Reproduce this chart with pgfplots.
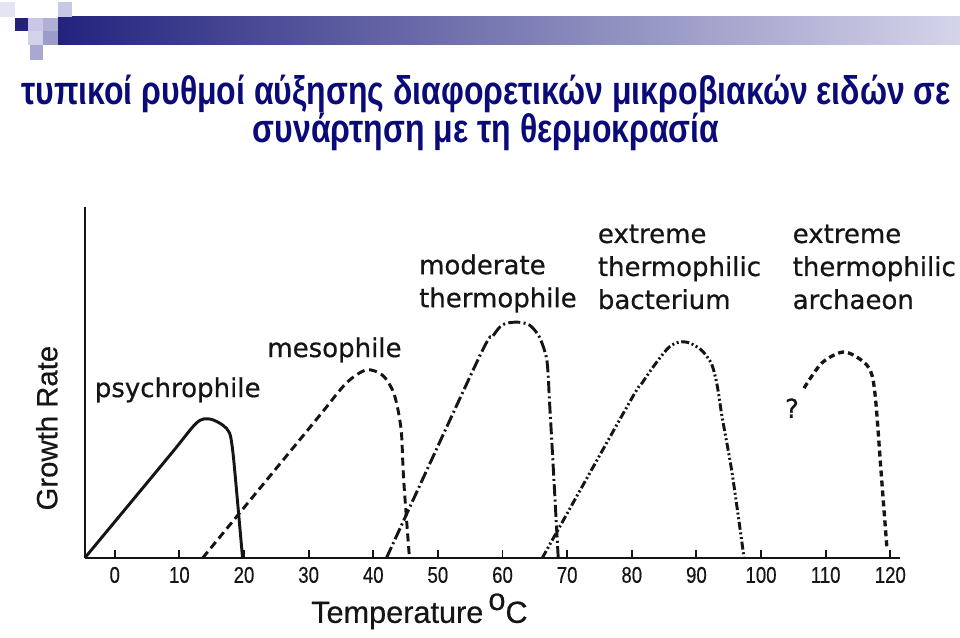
\documentclass[border=0pt]{standalone}
\usepackage{fontspec}
\usepackage{graphicx}
\usepackage{pgfplots}
\pgfplotsset{compat=1.18}
\setmainfont{Liberation Sans}
\newfontfamily\labelfont{DejaVu Sans}[FakeBold=0.6]
\newfontfamily\axisfont{Liberation Sans}[FakeBold=0.5]

\definecolor{titleblue}{HTML}{0A0A78}
\definecolor{barleft}{HTML}{23237E}
\definecolor{barright}{HTML}{D4D4EA}
\definecolor{ink}{HTML}{151515}
\definecolor{sqa}{HTML}{C8C8E6}
\definecolor{sqb}{HTML}{B0B0D6}
\definecolor{sqc}{HTML}{C8C8E4}
\definecolor{sqd}{HTML}{D2D2EA}
\definecolor{sqe}{HTML}{9C9CC8}
\definecolor{sqf}{HTML}{A8A8D0}
\definecolor{sqg}{HTML}{E4E4F2}

\begin{document}
\begin{tikzpicture}
% page is 960x638 px, 1 px = 0.75pt
\path[use as bounding box] (0,0) rectangle (720pt,478.5pt);

% slide decoration
\shade[left color=barleft, right color=barright] (43.5pt,444.75pt) rectangle (720pt,465.75pt);
\fill[barleft] (11.25pt,455.25pt) rectangle (21pt,465pt);
\fill[sqa] (21pt,455.25pt) rectangle (32.25pt,465pt);
\fill[sqb] (32.25pt,455.25pt) rectangle (43.5pt,465pt);
\fill[sqc] (43.5pt,465.75pt) rectangle (54pt,477pt);
\fill[sqd] (21pt,444.75pt) rectangle (32.25pt,455.25pt);
\fill[sqe] (32.25pt,444.75pt) rectangle (43.5pt,455.25pt);
\fill[sqf] (22.5pt,433.5pt) rectangle (32.25pt,444.75pt);
\fill[sqg] (0pt,465.75pt) rectangle (11.25pt,477pt);

% title
\node[anchor=base, text=titleblue, font=\bfseries\fontsize{30}{30}\selectfont]
  at (364.5pt,400pt) {\scalebox{0.8}[1]{τυπικοί ρυθμοί αύξησης διαφορετικών μικροβιακών ειδών σε}};
\node[anchor=base, text=titleblue, font=\bfseries\fontsize{30}{30}\selectfont]
  at (364.5pt,371.5pt) {\scalebox{0.8}[1]{συνάρτηση με τη θερμοκρασία}};

\begin{axis}[
  at={(63.75pt,60pt)}, anchor=south west,
  scale only axis, width=611.25pt, height=263.25pt,
  xmin=-4.6, xmax=121.5, ymin=0, ymax=100,
  axis x line=bottom, axis y line=left,
  axis line style={-, line width=2.2pt, ink},
  xtick={0,10,...,120}, ytick=\empty,
  tick align=inside, major tick length=6pt,
  tick style={line width=1.4pt, ink},
  /pgf/number format/assume math mode=true,
  xticklabel={\scalebox{0.82}[1]{\pgfmathprintnumber{\tick}}},
  xticklabel style={font=\axisfont\fontsize{17}{17}\selectfont, text=ink, inner sep=1pt, yshift=-5.5pt},
  clip=false,
  every axis plot/.append style={ink, line width=2.2pt, smooth, tension=0.5},
]
% psychrophile
\addplot[solid] coordinates {(-4.64,0) (8.50,29.2) (12.67,38.5) (14.68,39.6) (16.69,37.9) (17.77,35.6) (18.24,30.8) (18.70,22.2) (19.78,0)};
% mesophile
\addplot[dash pattern=on 6pt off 3.5pt] coordinates {(13.60,0) (28.59,33.6) (32.15,41.6) (35.86,49.9) (38.95,53.6) (41.42,52.1) (42.97,47.9) (43.74,43.0) (44.36,35.6) (44.71,22.2) (45.60,0)};
% moderate thermophile
\addplot[dash pattern=on 9pt off 2.5pt on 1.5pt off 2.5pt] coordinates {(42.04,0) (56.41,57.3) (58.42,63.0) (59.97,66.4) (62.13,67.2) (64.14,66.4) (65.69,63.0) (66.77,57.3) (67.08,51.6) (67.23,45.9) (67.70,30.8) (68.62,0)};
% extreme thermophilic bacterium
\addplot[dash pattern=on 6pt off 2pt on 1.5pt off 2pt on 1.5pt off 2pt] coordinates {(66.15,0) (79.60,44.2) (81.61,49.9) (83.77,55.6) (85.78,60.1) (87.33,61.5) (88.87,61.3) (90.73,59.3) (92.27,55.6) (93.04,50.7) (93.51,45.9) (93.97,40.2) (95.52,24.2) (97.37,0)};
% extreme thermophilic archaeon
\addplot[line width=2.5pt, dash pattern=on 4.5pt off 3pt] coordinates {(106.65,48.4) (109.43,55.6) (112.83,58.7) (115.92,55.8) (117.16,52.1) (117.77,44.2) (118.55,25.1) (119.47,3)};

\begin{scope}[every node/.style={text=ink, font=\labelfont\fontsize{19.5}{24.75}\selectfont}]
\node at (axis cs:9.74,47.9) {psychrophile};
\node at (axis cs:34.0,59.3) {mesophile};
\node[anchor=west, align=left] at (axis cs:46.37,78.2) {moderate\\thermophile};
\node[anchor=west, align=left] at (axis cs:74.03,82.9) {extreme\\thermophilic\\bacterium};
\node[anchor=west, align=left] at (axis cs:104.17,82.9) {extreme\\thermophilic\\archaeon};
\node at (axis cs:104.79,42.7) {?};
\end{scope}
\node[text=ink, inner sep=0pt, font=\axisfont\fontsize{23}{23}\selectfont] at (axis cs:47.14,-15.2) {Temperature\,\raisebox{0.42em}{o}C};
\node[text=ink, font=\axisfont\fontsize{22}{22}\selectfont, rotate=90] at (axis cs:-10.51,37.0) {Growth Rate};
\end{axis}
\end{tikzpicture}
\end{document}
